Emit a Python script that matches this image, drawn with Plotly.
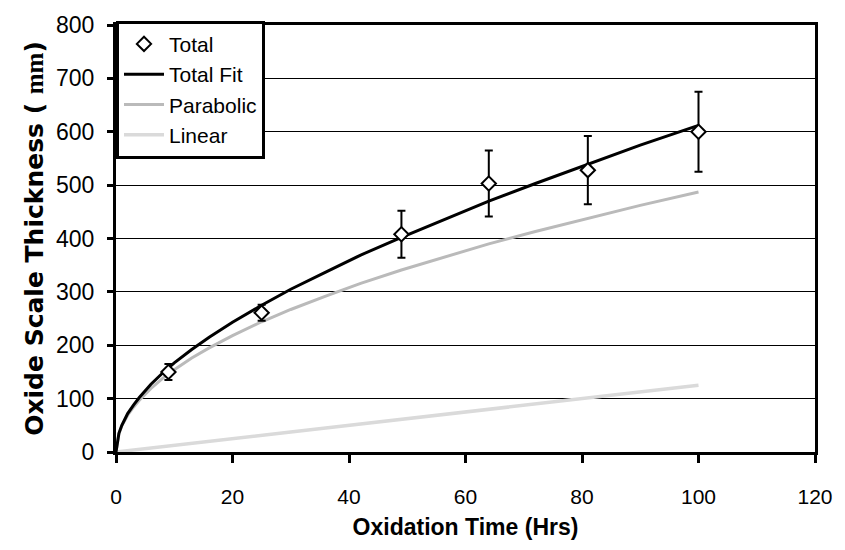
import plotly.graph_objects as go

t_data = [9, 25, 49, 64, 81, 100]
thick_data = [150, 261, 408, 503, 528, 600]
thick_err = [15, 15, 44, 62, 64, 75]

# Fit curves
t_fit = [0, 0.5, 1, 2, 3, 4, 6, 8, 10, 13, 16, 20, 25, 30, 36, 42, 49, 56, 64, 72, 81, 90, 100]
total_fit = [0, 35, 50, 72, 88, 102, 127, 148, 167, 192, 215, 243, 275, 305, 337, 369, 402, 434, 470, 503, 539, 575, 612]
parabolic = [0, 34, 49, 69, 84, 97, 119, 138, 154, 176, 195, 218, 244, 267, 292, 316, 341, 364, 390, 413, 438, 462, 487]
linear = [0, 0.6, 1.3, 2.5, 3.8, 5, 7.5, 10, 12.5, 16, 20, 25, 31, 37.5, 45, 52.5, 61, 70, 80, 90, 101, 112.5, 125]

x_ticks = [0, 20, 40, 60, 80, 100, 120]
y_ticks = [0, 100, 200, 300, 400, 500, 600, 700, 800]

fig = go.Figure()
fig.add_trace(go.Scatter(x=t_fit, y=linear, mode="lines", name="Linear",
                         line=dict(color="#dadada", width=3.5), legendrank=4))
fig.add_trace(go.Scatter(x=t_fit, y=parabolic, mode="lines", name="Parabolic",
                         line=dict(color="#bababa", width=3), legendrank=3))
fig.add_trace(go.Scatter(x=t_fit, y=total_fit, mode="lines", name="Total Fit",
                         line=dict(color="black", width=3), legendrank=2))
fig.add_trace(go.Scatter(x=t_data, y=thick_data, mode="markers", name="Total",
                         marker=dict(symbol="diamond", size=11, color="white",
                                     line=dict(color="black", width=2)),
                         error_y=dict(type="data", array=thick_err, visible=True,
                                      color="black", thickness=2, width=4),
                         legendrank=1))

x_font = dict(family="Liberation Sans, Arial, sans-serif", size=21, color="black")
y_font = dict(family="Liberation Sans, Arial, sans-serif", size=23, color="black")

fig.update_layout(
    width=845, height=550,
    margin=dict(l=116, r=27, t=20, b=98),
    paper_bgcolor="white", plot_bgcolor="white",
    font=dict(family="Liberation Sans, Arial, sans-serif", color="black"),
    showlegend=True,
    legend=dict(x=0, y=1.01, xanchor="left", yanchor="top",
                bgcolor="white", bordercolor="black", borderwidth=3,
                font=dict(family="Liberation Sans, Arial, sans-serif", size=21, color="black"),
                tracegroupgap=0, itemwidth=40),
    xaxis=dict(range=[0, 120], tickvals=x_ticks, ticktext=[str(v) for v in x_ticks],
               showgrid=False, zeroline=False,
               showline=True, linecolor="black", linewidth=3, mirror=True,
               ticks="outside", ticklen=8, tickwidth=3, tickcolor="black",
               tickfont=x_font, ticklabelstandoff=16,
               title=dict(text="<b>Oxidation Time (Hrs)</b>", standoff=12,
                          font=dict(family="Liberation Sans, Arial", size=23, color="black"))),
    yaxis=dict(range=[0, 800], tickvals=y_ticks, ticktext=[str(v) for v in y_ticks],
               showgrid=True, gridcolor="black", gridwidth=1, zeroline=False,
               showline=True, linecolor="black", linewidth=3, mirror=True,
               ticks="outside", ticklen=6, tickwidth=3, tickcolor="black",
               tickfont=y_font, ticklabelstandoff=8,
               title=dict(text="<b>Oxide Scale Thickness ( <span style='font-family:Liberation Serif'>mm</span>)</b>",
                          standoff=6,
                          font=dict(family="DejaVu Sans, Liberation Sans, Arial", size=25, color="black"))),
)

fig.write_html("out.html")
